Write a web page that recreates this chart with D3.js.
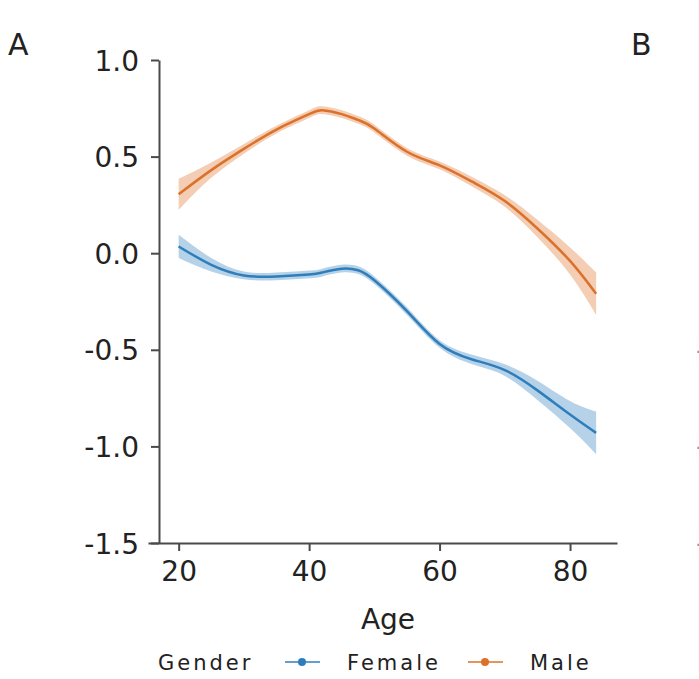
<!DOCTYPE html>
<html>
<head>
<meta charset="utf-8">
<script src="https://cdn.jsdelivr.net/npm/d3@7"></script>
<style>
  body { margin: 0; background: #fff; }
  svg { display: block; font-family: "DejaVu Sans", sans-serif; }
</style>
</head>
<body>
<div id="chart"></div>
<script>
// values
const ages = [20, 25, 30, 35, 40, 42, 45, 47.5, 50, 55, 60, 65, 70, 75, 80, 84];
const femaleMean = [0.035, -0.06, -0.115, -0.12, -0.11, -0.10, -0.08, -0.088, -0.14, -0.30, -0.47, -0.55, -0.605, -0.71, -0.835, -0.93];
const femaleLow  = [-0.025, -0.095, -0.135, -0.14, -0.13, -0.12, -0.10, -0.108, -0.16, -0.32, -0.49, -0.575, -0.635, -0.76, -0.905, -1.04];
const femaleHigh = [0.095, -0.025, -0.095, -0.10, -0.09, -0.08, -0.06, -0.068, -0.12, -0.28, -0.45, -0.525, -0.575, -0.66, -0.765, -0.82];
const maleMean   = [0.305, 0.43, 0.54, 0.64, 0.72, 0.74, 0.72, 0.69, 0.645, 0.525, 0.455, 0.37, 0.27, 0.128, -0.04, -0.21];
const maleLow    = [0.225, 0.39, 0.515, 0.62, 0.70, 0.72, 0.70, 0.67, 0.625, 0.505, 0.435, 0.345, 0.24, 0.083, -0.11, -0.32];
const maleHigh   = [0.385, 0.47, 0.565, 0.66, 0.74, 0.76, 0.74, 0.71, 0.665, 0.545, 0.475, 0.395, 0.30, 0.173, 0.03, -0.10];
const xTicks = [20, 40, 60, 80];
const yTicks = [1.0, 0.5, 0.0, -0.5, -1.0, -1.5];
const genders = ["Female", "Male"];
const genderColors = ["#2f7ebc", "#dc7129"];

const W = 699, H = 679;
const svg = d3.select("#chart").append("svg")
  .attr("width", W).attr("height", H);

const x = d3.scaleLinear().domain([15.3, 87.2]).range([148, 617]);
const y = d3.scaleLinear().domain([-1.5, 1.0]).range([543, 60]);

const series = [
  { name: "Female", mean: femaleMean, low: femaleLow, high: femaleHigh },
  { name: "Male", mean: maleMean, low: maleLow, high: maleHigh }
];

const band = d3.area()
  .x(d => x(d.age)).y0(d => y(d.low)).y1(d => y(d.high))
  .curve(d3.curveNatural);
const line = d3.line()
  .x(d => x(d.age)).y(d => y(d.mean))
  .curve(d3.curveNatural);

series.forEach((s, i) => {
  const pts = ages.map((a, j) => ({ age: a, mean: s.mean[j], low: s.low[j], high: s.high[j] }));
  svg.append("path").datum(pts)
    .attr("d", band)
    .attr("fill", genderColors[i]).attr("fill-opacity", 0.35);
  svg.append("path").datum(pts)
    .attr("d", line)
    .attr("fill", "none")
    .attr("stroke", genderColors[i]).attr("stroke-width", 2.5);
});

const axisColor = "#4a4a4a";

// x axis
const gx = svg.append("g")
  .attr("transform", "translate(0,543)")
  .call(d3.axisBottom(x).tickValues(xTicks).tickSize(8).tickPadding(10).tickSizeOuter(0));
// y axis
const gy = svg.append("g")
  .attr("transform", "translate(159,0)")
  .call(d3.axisLeft(y).tickValues(yTicks).tickSize(8).tickPadding(12).tickSizeOuter(0)
    .tickFormat(d => d3.format(".1f")(d).replace("−", "-")));

[gx, gy].forEach(g => {
  g.selectAll("path, line").attr("stroke", axisColor).attr("stroke-width", 2);
  g.selectAll("text").attr("fill", "#222").style("font-size", "28px")
    .style("font-family", "DejaVu Sans, sans-serif");
});
gy.selectAll("text").attr("dy", "0.36em");

// axis title
svg.append("text")
  .attr("x", 388).attr("y", 629)
  .attr("text-anchor", "middle")
  .attr("fill", "#222").style("font-size", "28px")
  .text("Age");

// panel letters
svg.append("text").attr("x", 8).attr("y", 55)
  .attr("fill", "#222").style("font-size", "30px").text("A");
svg.append("text").attr("x", 631).attr("y", 55)
  .attr("fill", "#222").style("font-size", "30px").text("B");

// tick labels of panel B, cut off at the right edge as in the reference
["-0.5", "-1.0", "-1.5"].forEach((t, i) => {
  svg.append("text").attr("x", 696).attr("y", y([-0.5, -1.0, -1.5][i]))
    .attr("dy", "0.36em")
    .attr("fill", "#999").style("font-size", "28px").text(t);
});

// legend
const legend = svg.append("g").attr("transform", "translate(0,670)");
legend.append("text").attr("x", 158).attr("y", 0)
  .attr("fill", "#222").style("font-size", "21px").style("letter-spacing", "3px")
  .text("Gender");
const legendX = [285, 468];
genders.forEach((g, i) => {
  const lx = legendX[i];
  legend.append("line")
    .attr("x1", lx).attr("x2", lx + 35).attr("y1", -8).attr("y2", -8)
    .attr("stroke", genderColors[i]).attr("stroke-width", 1.5);
  legend.append("circle")
    .attr("cx", lx + 17).attr("cy", -8).attr("r", 4)
    .attr("fill", genderColors[i]);
  legend.append("text").attr("x", lx + 62).attr("y", 0)
    .attr("fill", "#222").style("font-size", "21px").style("letter-spacing", "3px")
    .text(g);
});
</script>
</body>
</html>
